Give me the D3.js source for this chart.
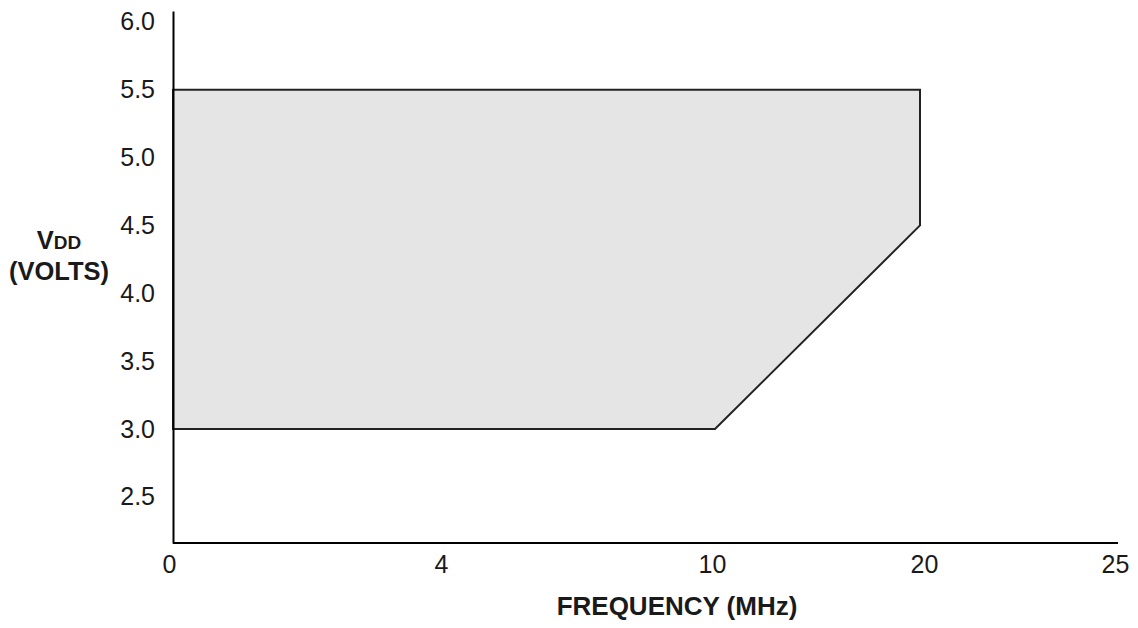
<!DOCTYPE html>
<html>
<head>
<meta charset="utf-8">
<script src="https://cdn.jsdelivr.net/npm/d3@7"></script>
<style>
  html, body { margin: 0; padding: 0; background: #fff; }
  text { font-family: "Liberation Sans", Arial, sans-serif; fill: #1a1a1a; }
</style>
</head>
<body>
<svg id="chart" width="1138" height="628"></svg>
<script>
// Data
const xTicks = [0, 4, 10, 20, 25];
const yTicks = [2.5, 3.0, 3.5, 4.0, 4.5, 5.0, 5.5, 6.0];
const regionFreq = [0, 10, 20, 20, 0];
const regionVdd  = [3.0, 3.0, 4.5, 5.5, 5.5];

const svg = d3.select("#chart");

// Non-uniform x axis, as in the reference (piecewise linear)
const x = d3.scaleLinear().domain(xTicks).range([173, 441, 715, 920, 1115]);
const y = d3.scaleLinear().domain([2.16, 6.08]).range([543, 11]);

// Operating region
const pts = regionFreq.map((f, i) => [x(f), y(regionVdd[i])]);
svg.append("path")
  .attr("d", d3.line()(pts) + "Z")
  .attr("fill", "#e5e5e5")
  .attr("stroke", "#222")
  .attr("stroke-width", 2)
  .attr("stroke-linejoin", "miter");

// Axes
const xAxis = d3.axisBottom(x).tickValues(xTicks).tickSize(0).tickPadding(12)
  .tickFormat(d3.format("d"));
const gx = svg.append("g").attr("transform", `translate(0,${y(2.16)})`).call(xAxis);
gx.select(".domain").attr("stroke", "#000").attr("stroke-width", 2)
  .attr("d", `M${x(0)},0H${x(25) + 3}`);
gx.selectAll("text").attr("font-size", 25).attr("fill", "#1a1a1a")
  .attr("font-family", "Liberation Sans, Arial, sans-serif");
gx.selectAll(".tick text").attr("dx", d => d === 0 ? -4 : (d === 20 ? 4 : (d === 10 ? -3 : 0)));

const yAxis = d3.axisLeft(y).tickValues(yTicks).tickSize(0).tickPadding(18)
  .tickFormat(d3.format(".1f"));
const gy = svg.append("g").attr("transform", `translate(${x(0)},0)`).call(yAxis);
gy.select(".domain").attr("stroke", "#000").attr("stroke-width", 2);
gy.selectAll("text").attr("font-size", 25).attr("fill", "#1a1a1a")
  .attr("font-family", "Liberation Sans, Arial, sans-serif");

// Axis titles
const yt = svg.append("text").attr("x", 59).attr("y", 249)
  .attr("text-anchor", "middle").attr("font-weight", "bold").attr("font-size", 25.5);
yt.append("tspan").text("V");
yt.append("tspan").attr("font-size", 19).text("DD");

svg.append("text").attr("x", 59).attr("y", 280)
  .attr("text-anchor", "middle").attr("font-weight", "bold").attr("font-size", 25.5)
  .text("(VOLTS)");

svg.append("text").attr("x", 677).attr("y", 615)
  .attr("text-anchor", "middle").attr("font-weight", "bold").attr("font-size", 26)
  .text("FREQUENCY (MHz)");
</script>
</body>
</html>
